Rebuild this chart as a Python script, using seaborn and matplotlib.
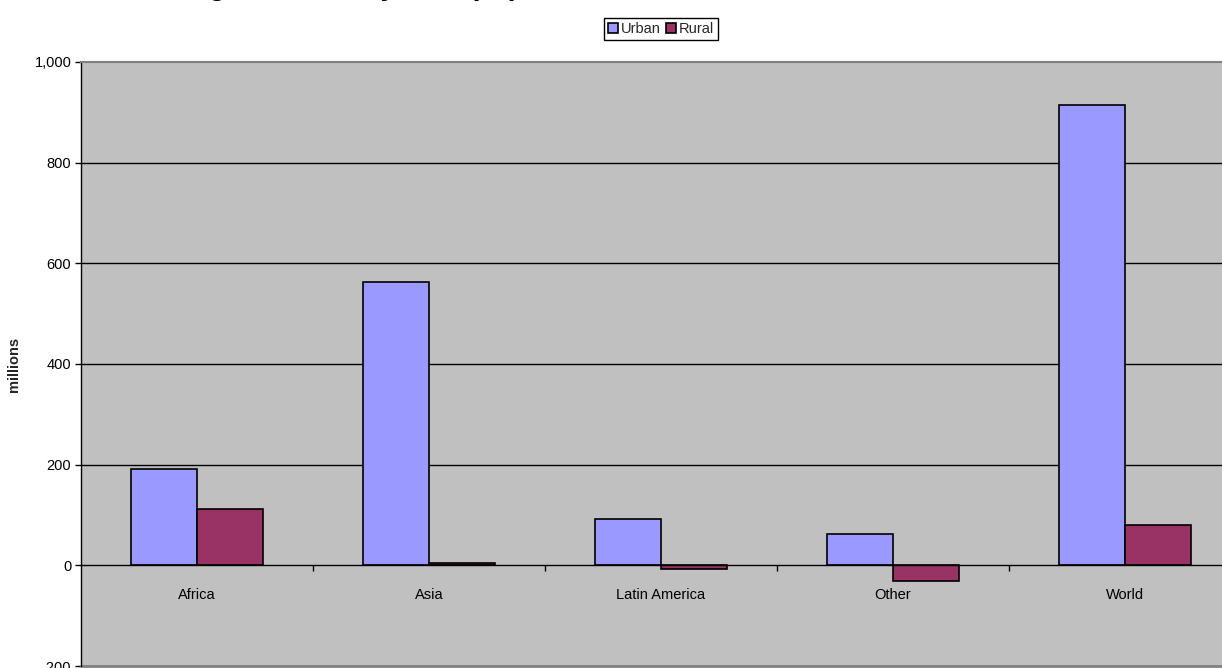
import matplotlib
matplotlib.use("Agg")
import matplotlib.pyplot as plt
import matplotlib.ticker as mticker
import seaborn as sns
import pandas as pd

# Population change (millions) by region
regions = ["Africa", "Asia", "Latin America", "Other", "World"]
urban = [191, 563, 93, 62, 915]
rural = [111, 4, -8, -32, 80]
series = ["Urban", "Rural"]
y_ticks = [-200, 0, 200, 400, 600, 800, 1000]

df = pd.DataFrame({
    "region": regions * 2,
    "type": ["Urban"] * len(regions) + ["Rural"] * len(regions),
    "value": urban + rural,
})

sns.set_theme(style="white")
plt.rcParams["font.family"] = ["Liberation Sans", "DejaVu Sans"]

W, H = 1222, 668
fig = plt.figure(figsize=(W / 100, H / 100), dpi=100)
# plot area runs slightly past the right edge of the canvas
ax = fig.add_axes([81 / W, 2 / H, (1241 - 81) / W, (666 - 62) / H])
ax.set_facecolor("#C0C0C0")

palette = {"Urban": "#9999FF", "Rural": "#993366"}
sns.barplot(data=df, x="region", y="value", hue="type", hue_order=series,
            order=regions, palette=palette, width=0.57, saturation=1,
            edgecolor="black", linewidth=1.2, ax=ax, zorder=3)

ax.set_xlim(-0.5, len(regions) - 0.5)
ax.set_ylim(y_ticks[0], y_ticks[-1])
ax.set_yticks(y_ticks)
ax.yaxis.set_major_formatter(mticker.FuncFormatter(lambda v, p: f"{int(v):,}"))

# gridlines
for v in y_ticks[2:-1]:
    ax.axhline(v, color="black", lw=1.0, zorder=1)
ax.axhline(y_ticks[0], color="#808080", lw=2, zorder=1, clip_on=False)

# axes lines
ax.spines["top"].set_visible(True)
ax.spines["top"].set_color("#808080")
ax.spines["top"].set_linewidth(1.5)
ax.spines["right"].set_visible(False)
ax.spines["left"].set_color("black")
ax.spines["left"].set_linewidth(1.0)
ax.spines["bottom"].set_position(("data", 0))
ax.spines["bottom"].set_color("black")
ax.spines["bottom"].set_linewidth(1.0)
ax.spines["bottom"].set_zorder(4)

FS = 10.5
ax.tick_params(axis="y", which="major", direction="out", length=4, width=1,
               color="black", labelsize=FS, labelcolor="black", pad=3, left=True)
ax.set_xticks(range(len(regions)))
ax.set_xticklabels(regions)
ax.tick_params(axis="x", which="major", length=0, pad=16, labelsize=FS,
               labelcolor="black")
ax.set_xticks([i + 0.5 for i in range(len(regions) - 1)], minor=True)
ax.tick_params(axis="x", which="minor", direction="out", length=4, width=1,
               color="black", bottom=True)

ax.set_xlabel("")
ax.set_ylabel("millions", fontsize=FS, fontweight="bold", labelpad=10)

handles, labels = ax.get_legend_handles_labels()
leg = ax.legend(handles, labels, ncol=2, loc="center",
                bbox_to_anchor=(661 / W, (H - 29) / H),
                bbox_transform=fig.transFigure, frameon=True, fancybox=False,
                edgecolor="black", framealpha=1, fontsize=FS,
                handlelength=0.7, handleheight=0.7, handletextpad=0.2,
                columnspacing=0.35, borderpad=0.25, borderaxespad=0)
leg.get_frame().set_linewidth(1.0)

# chart title, sitting mostly above the top edge of the canvas
fig.text(137 / W, (H + 5) / H,
         "Change 2000-30 by total population",
         fontsize=20.6, fontweight="bold", ha="left", va="baseline",
         color="black")

fig.savefig("out.png", dpi=100, facecolor="white")
